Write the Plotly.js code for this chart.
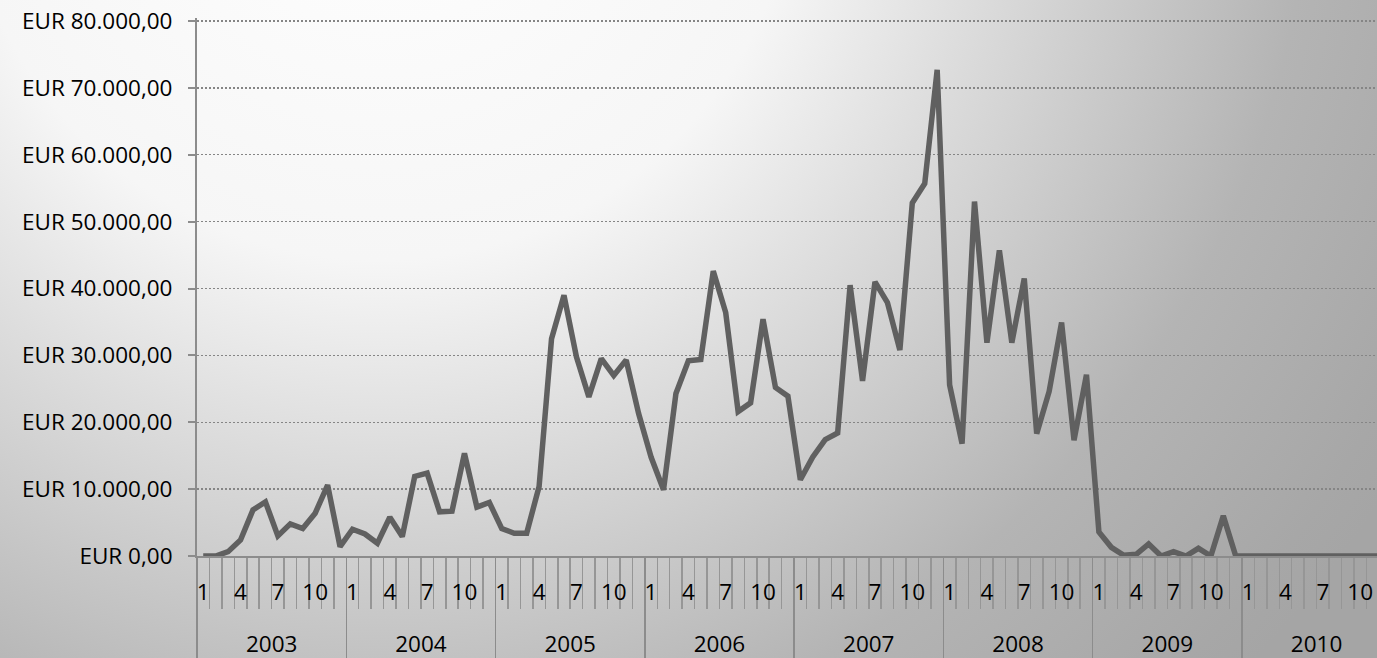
<!DOCTYPE html>
<html>
<head>
<meta charset="utf-8">
<script src="https://cdn.plot.ly/plotly-3.0.1.min.js"></script>
<style>
  html, body { margin: 0; padding: 0; width: 1377px; height: 658px; overflow: hidden; }
  body {
    background: radial-gradient(circle 1200px at 380px -160px, #ffffff 0px, #f6f6f6 420px, #dddddd 610px, #b4b4b4 930px, #a7a7a7 1150px, #a5a5a5 1200px);
  }
  #chart { width: 1377px; height: 658px; }
</style>
</head>
<body>
<div id="chart"></div>
<script>
const years = ['2003', '2004', '2005', '2006', '2007', '2008', '2009', '2010'];
const monthLabels = ['1', '4', '7', '10'];
const v2003 = [0, 0, 650, 2400, 6900, 8100, 3000, 4800, 4100, 6400, 10600, 1400];
const v2004 = [4000, 3300, 1900, 5800, 2900, 11900, 12400, 6600, 6700, 15350, 7300, 8000];
const v2005 = [4100, 3400, 3400, 10400, 32500, 39000, 29800, 23800, 29500, 27000, 29300, 21300];
const v2006 = [14800, 9900, 24300, 29200, 29400, 42600, 36400, 21600, 22900, 35400, 25200, 23900];
const v2007 = [11400, 14800, 17400, 18400, 40500, 26200, 41000, 37900, 30800, 52800, 55700, 72700];
const v2008 = [25600, 16800, 53000, 31900, 45700, 31900, 41500, 18300, 24600, 34900, 17300, 27100];
const v2009 = [3600, 1300, 100, 250, 1800, 0, 650, 0, 1150, 0, 6000, 0];
const v2010 = [0, 0, 0, 0, 0, 0, 0, 0, 0, 0, 0, 0];
const yTickVals = [0, 10000, 20000, 30000, 40000, 50000, 60000, 70000, 80000];
const yTickText = ['EUR 0,00', 'EUR 10.000,00', 'EUR 20.000,00', 'EUR 30.000,00', 'EUR 40.000,00',
                   'EUR 50.000,00', 'EUR 60.000,00', 'EUR 70.000,00', 'EUR 80.000,00'];

const values = [].concat(v2003, v2004, v2005, v2006, v2007, v2008, v2009, v2010);
const xs = values.map((_, i) => i);

const monthBounds = [];
for (let i = 0; i <= values.length; i++) monthBounds.push(i - 0.5);
const yearBounds = [];
for (let k = 0; k <= years.length; k++) yearBounds.push(k * 12 - 0.5);
const mlVals = [], mlText = [];
years.forEach((y, k) => {
  [0, 3, 6, 9].forEach((m, j) => { mlVals.push(k * 12 + m); mlText.push(monthLabels[j]); });
});
const ylVals = years.map((y, k) => k * 12 + 5.5);

const W = 1377, H = 658;
const plotLeft = 197, plotRight = 1377, yZero = 556, yTop = 21;
const monthW = 12.44;
const xMax = (plotRight - plotLeft) / monthW - 0.5;
const xDomain = [plotLeft / W, 1];
const yMax = 80400;
const pxPerUnit = (yZero - yTop) / 80000;
const yDomain = [(H - yZero) / H, (H - (yZero - yMax * pxPerUnit)) / H];

const font = { family: '"Open Sans", sans-serif', size: 22.5, color: '#000000' };
const grey = '#8c8c8c';

const data = [{
  x: xs, y: values, type: 'scatter', mode: 'lines',
  line: { color: '#606060', width: 5.5, shape: 'linear' },
  hoverinfo: 'skip', showlegend: false
}];

const base = { range: [-0.5, xMax], domain: xDomain, fixedrange: true, showgrid: false, zeroline: false };

const layout = {
  width: W, height: H,
  margin: { l: 0, r: 0, t: 0, b: 0, pad: 0 },
  paper_bgcolor: 'rgba(0,0,0,0)', plot_bgcolor: 'rgba(0,0,0,0)',
  font: font,
  showlegend: false,
  xaxis: Object.assign({}, base, {
    anchor: 'y',
    showline: true, linecolor: grey, linewidth: 2,
    tickmode: 'array', tickvals: monthBounds, ticktext: monthBounds.map(() => ''),
    ticks: 'outside', ticklen: 51, tickwidth: 1.5, tickcolor: '#969696', showticklabels: true
  }),
  xaxis2: Object.assign({}, base, {
    overlaying: 'x', anchor: 'y', side: 'bottom',
    showline: false, ticks: '',
    tickmode: 'array', tickvals: mlVals, ticktext: mlText,
    tickfont: font, ticklabelstandoff: 20
  }),
  xaxis3: Object.assign({}, base, {
    overlaying: 'x', anchor: 'y', side: 'bottom',
    showline: false,
    tickmode: 'array', tickvals: yearBounds, ticktext: yearBounds.map(() => ''),
    ticks: 'outside', ticklen: 105, tickwidth: 1.5, tickcolor: '#8c8c8c'
  }),
  xaxis4: Object.assign({}, base, {
    overlaying: 'x', anchor: 'y', side: 'bottom',
    showline: false, ticks: '',
    tickmode: 'array', tickvals: ylVals, ticktext: years,
    tickfont: font, ticklabelstandoff: 72
  }),
  yaxis: {
    range: [0, yMax], domain: yDomain, fixedrange: true,
    tickmode: 'array', tickvals: yTickVals, ticktext: yTickText,
    showgrid: true, gridcolor: '#858585', gridwidth: 1.3, griddash: '2px,2px',
    showline: true, linecolor: grey, linewidth: 2,
    ticks: 'outside', ticklen: 7, tickwidth: 2, tickcolor: grey,
    zeroline: false, tickfont: font, ticklabelstandoff: 11
  }
};

data.push({ x: [0], y: [null], xaxis: 'x2', yaxis: 'y', type: 'scatter', mode: 'lines', showlegend: false, hoverinfo: 'skip' });
data.push({ x: [0], y: [null], xaxis: 'x3', yaxis: 'y', type: 'scatter', mode: 'lines', showlegend: false, hoverinfo: 'skip' });
data.push({ x: [0], y: [null], xaxis: 'x4', yaxis: 'y', type: 'scatter', mode: 'lines', showlegend: false, hoverinfo: 'skip' });

Plotly.newPlot('chart', data, layout, { displayModeBar: false, staticPlot: true });
</script>
</body>
</html>
